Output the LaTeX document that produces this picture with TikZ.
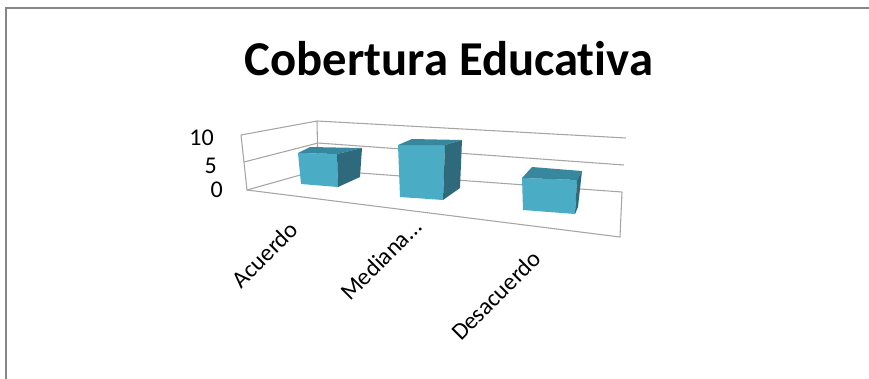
\documentclass[tikz,border=0pt]{standalone}
\usepackage{fontspec}
\setmainfont{Carlito}[Ligatures={NoCommon,NoRare}]
\definecolor{barfront}{RGB}{75,172,198}
\definecolor{bartop}{RGB}{55,136,158}
\definecolor{barside}{RGB}{47,106,124}
\definecolor{gridgray}{RGB}{165,165,165}
\definecolor{framegray}{RGB}{134,134,134}
\newcommand{\drawbar}[7]{%
  \fill[barfront] #1 -- #4 -- #5 -- #6 -- cycle;
  \fill[bartop] #1 -- #2 -- #3 -- #4 -- cycle;
  \fill[barside] #4 -- #3 -- #7 -- #5 -- cycle;
}

\begin{document}
\begin{tikzpicture}[x=0.75pt,y=-0.75pt,
  gridline/.style={gridgray, line width=0.8pt},
  ticklabel/.style={font=\fontsize{18}{20}\selectfont, inner sep=0pt, anchor=east},
  catlabel/.style={font=\fontsize{18}{20}\selectfont, inner sep=0pt, rotate=45, anchor=base east}]
\useasboundingbox (0,0) rectangle (869,379);
\draw[framegray, line width=1.5pt] (6,379) -- (6,8) -- (869,8);
\node[font=\fontsize{36.5}{40}\selectfont\bfseries, anchor=base] (title) at (449,75) {Cobertura Educativa};
% walls and floor
\draw[gridline] (241,135) -- (317,121) -- (626,138);
\draw[gridline] (244,162) -- (318,143) -- (624,165);
\draw[gridline] (247,190) -- (318,170) -- (622,192);
\draw[gridline] (241,135) -- (247,190) -- (620,237) -- (622,192);
\draw[gridline] (317,121) -- (318,170);
% bars
\drawbar{(298,153)}{(310,147)}{(362,148)}{(337,154)}{(338,187)}{(301,184)}{(360,177)}
\drawbar{(398,145)}{(412,139)}{(462,140)}{(445,145)}{(443,200)}{(400,197)}{(460,188)}
\drawbar{(522,178)}{(532,167)}{(582,171)}{(577,180)}{(575,214)}{(523,210)}{(578,207)}
\foreach \v/\x/\y in {10/214/138,5/217/165.5,0/223/190}{
  \node[ticklabel] (tick\v) at (\x,\y) {\v};
}
\node[catlabel] (acuerdo) at (300,231) {Acuerdo};
\node[catlabel] (mediana) at (423,229) {Mediana…};
\node[catlabel] (desacuerdo) at (543,260) {Desacuerdo};
\end{tikzpicture}
\end{document}
